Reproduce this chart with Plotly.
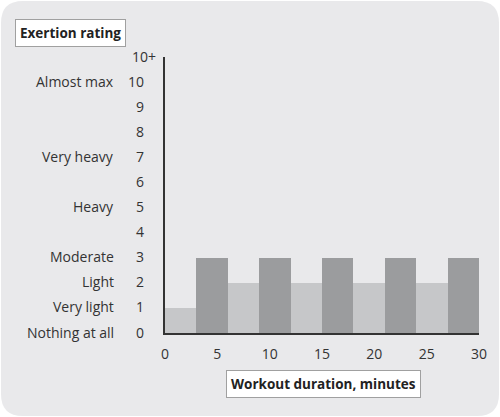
import plotly.graph_objects as go

# Exertion ratings per 3-minute interval of the workout
interval_start = [0, 3, 6, 9, 12, 15, 18, 21, 24, 27]
rating = [1, 3, 2, 3, 2, 3, 2, 3, 2, 3]
interval_len = 3

x_ticks = [0, 5, 10, 15, 20, 25, 30]
y_ticks = [0, 1, 2, 3, 4, 5, 6, 7, 8, 9, 10, 11]
y_ticktext = ['0', '1', '2', '3', '4', '5', '6', '7', '8', '9', '10', '10+']
rating_names = {0: 'Nothing at all', 1: 'Very light', 2: 'Light', 3: 'Moderate',
                5: 'Heavy', 7: 'Very heavy', 10: 'Almost max'}

light_color = '#c6c7c9'
dark_color = '#9b9c9e'
bg_color = '#e9e9eb'
text_color = '#333333'
font_family = 'Open Sans'

W, H = 500, 417
ml, mr, mt, mb = 165, 21, 57, 84

fig = go.Figure()

centers = [s + interval_len / 2 for s in interval_start]
colors = [light_color if r != 3 else dark_color for r in rating]
fig.add_trace(go.Bar(x=centers, y=rating, width=interval_len,
                     marker=dict(color=colors, line=dict(width=0)),
                     showlegend=False, hoverinfo='x+y'))

# rounded grey panel behind everything, built in paper coords from pixels
pw, ph = W - ml - mr, H - mt - mb
def px(p):
    return (p - ml) / pw
def py(p):
    return (H - mb - p) / ph
r = 22
x0, x1, y0, y1 = 1, W - 1, 1, H - 1
path = (f"M {px(x0 + r)},{py(y0)} L {px(x1 - r)},{py(y0)} "
        f"Q {px(x1)},{py(y0)} {px(x1)},{py(y0 + r)} "
        f"L {px(x1)},{py(y1 - r)} Q {px(x1)},{py(y1)} {px(x1 - r)},{py(y1)} "
        f"L {px(x0 + r)},{py(y1)} Q {px(x0)},{py(y1)} {px(x0)},{py(y1 - r)} "
        f"L {px(x0)},{py(y0 + r)} Q {px(x0)},{py(y0)} {px(x0 + r)},{py(y0)} Z")
fig.add_shape(type='path', path=path, xref='paper', yref='paper',
              fillcolor=bg_color, line=dict(width=0), layer='below')

# numeric ratings and their names
for v, t in zip(y_ticks, y_ticktext):
    fig.add_annotation(x=0, xref='paper', y=v, yref='y', text=t,
                       showarrow=False, xanchor='left' if t == '10+' else 'right',
                       yanchor='middle', xshift=-35 if t == '10+' else -19, yshift=1,
                       font=dict(size=14, color=text_color, family=font_family))
for v, name in rating_names.items():
    fig.add_annotation(x=0, xref='paper', y=v, yref='y', text=name,
                       showarrow=False, xanchor='right', yanchor='middle',
                       xshift=-49, yshift=1,
                       font=dict(size=14, color=text_color, family=font_family))

# boxed axis titles
fig.add_annotation(x=px(70), y=py(33.5), xref='paper', yref='paper',
                   xanchor='center', yanchor='middle',
                   text='<b>Exertion rating</b>', showarrow=False,
                   bgcolor='white', bordercolor='#a0a0a0', borderwidth=1, borderpad=4,
                   font=dict(size=13.5, color='#222222', family=font_family))
fig.add_annotation(x=px(323), y=py(384), xref='paper', yref='paper',
                   xanchor='center', yanchor='middle',
                   text='<b>Workout duration, minutes</b>', showarrow=False,
                   bgcolor='white', bordercolor='#a0a0a0', borderwidth=1, borderpad=4,
                   font=dict(size=13.5, color='#222222', family=font_family))

fig.update_layout(width=W, height=H, margin=dict(l=ml, r=mr, t=mt, b=mb),
                  paper_bgcolor='white', plot_bgcolor='rgba(0,0,0,0)',
                  bargap=0, font=dict(family=font_family, color=text_color))
fig.update_xaxes(range=[0, 30], tickvals=x_ticks, showgrid=False, zeroline=False,
                 showline=True, linecolor='#333333', linewidth=2,
                 ticks='outside', ticklen=7, tickcolor='rgba(0,0,0,0)',
                 tickfont=dict(size=14, color=text_color, family=font_family))
fig.update_yaxes(range=[0, 11], showgrid=False, zeroline=False,
                 showline=True, linecolor='#333333', linewidth=2,
                 showticklabels=False, ticks='')

fig.write_html("out.html", config={'displayModeBar': False},
               post_script="document.body.style.margin='0';")
